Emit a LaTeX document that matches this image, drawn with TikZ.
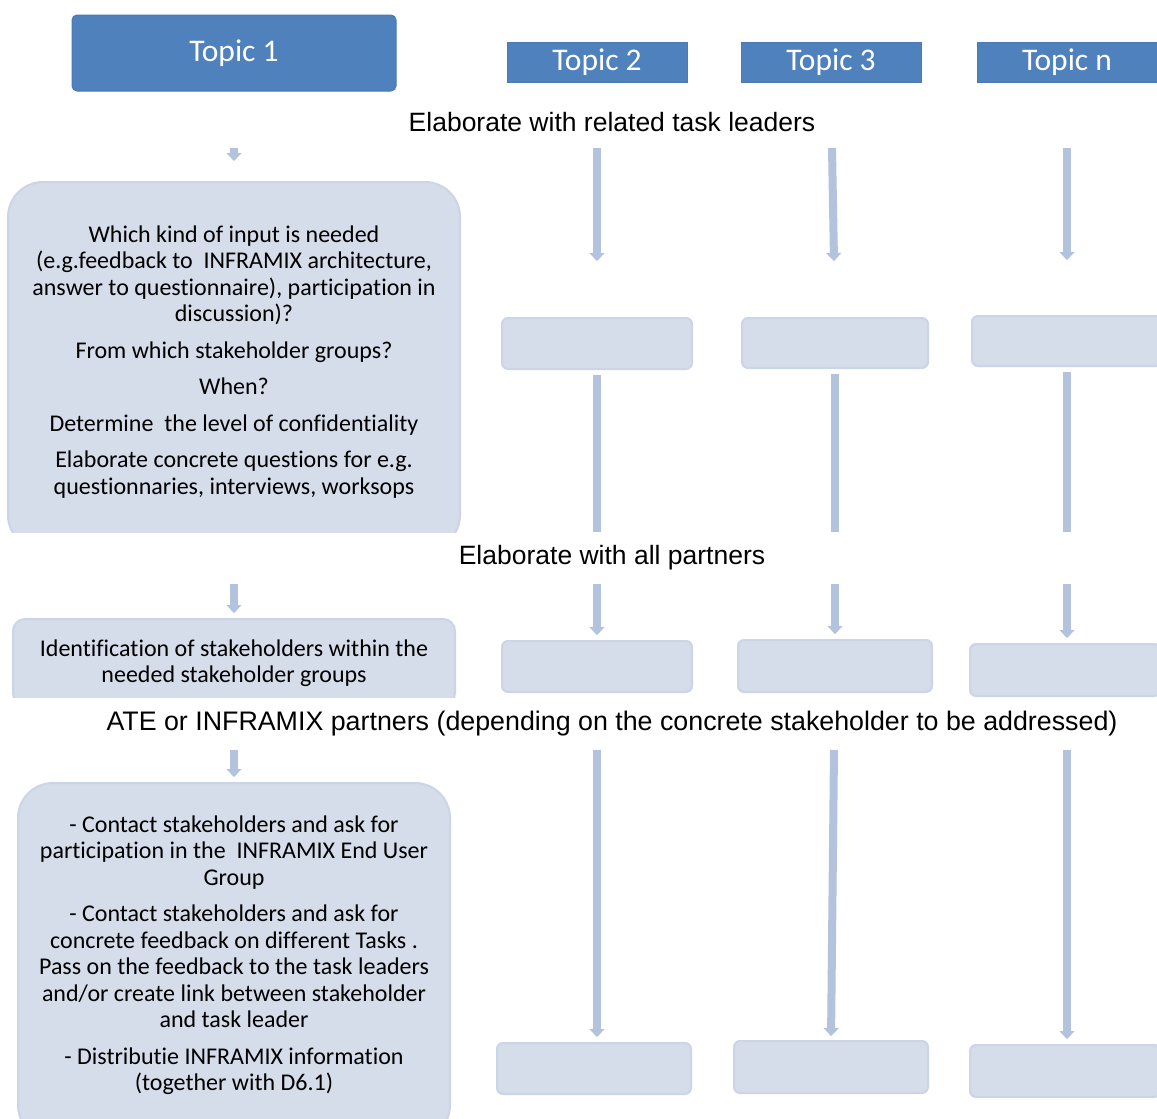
\documentclass[tikz,border=0pt]{standalone}
\usepackage{fontspec}
\setmainfont[Ligatures={NoCommon,NoRequired,NoContextual}]{Carlito}
\newfontfamily\arialf{Liberation Sans}
\usetikzlibrary{arrows.meta}
\definecolor{topicblue}{HTML}{4F81BD}
\definecolor{topicedge}{HTML}{4A7AB5}
\definecolor{lightfill}{HTML}{D5DCEA}
\definecolor{lightedge}{HTML}{CCD5E7}
\definecolor{arrowcol}{HTML}{B3C3DE}
\begin{document}
\begin{tikzpicture}[x=1pt,y=-1pt,
  topicbox/.style={draw=topicedge, line width=1pt, fill=topicblue, text=white, font=\fontsize{31.5}{34}\selectfont, inner sep=0pt},
  emptybox/.style={draw=lightedge, line width=2pt, fill=lightfill, rounded corners=6pt, inner sep=0pt},
  textbox/.style={draw=lightedge, line width=2pt, fill=lightfill, inner sep=0pt},
  blockarrow/.style={draw=arrowcol, line width=8pt, -{Triangle[width=15pt,length=8pt,line width=0.1pt]}},
  stem/.style={draw=arrowcol, line width=8pt},
  label/.style={font=\arialf\fontsize{26.5}{30}\selectfont, inner sep=0pt},
  body/.style={font=\fontsize{24}{26.5}\selectfont, align=center, inner sep=0pt}
]
\clip (0,0) rectangle (1157,1119);
\fill[white] (0,0) rectangle (1157,1119);

% Topics
\node[topicbox, rounded corners=5pt, minimum width=324pt, minimum height=76pt] (t1) at (234,53) {Topic 1};
\node[topicbox, minimum width=180pt, minimum height=40pt] (t2) at (597,62) {Topic 2};
\node[topicbox, minimum width=180pt, minimum height=40pt] (t3) at (831,62) {Topic 3};
\node[topicbox, minimum width=180pt, minimum height=40pt] (tn) at (1067,62) {Topic n};

% Labels
\node[label] (l1) at (612,122) {Elaborate with related task leaders};
\node[label] (l2) at (612,558) {Elaborate with all partners};
\node[label, font=\arialf\fontsize{26.8}{30}\selectfont] (l3) at (612,724) {ATE or INFRAMIX partners (depending on the concrete stakeholder to be addressed)};

% Box 1 (clipped)
\begin{scope}
\clip (0,0) rectangle (1157,532);
\node[textbox, rounded corners=35pt, minimum width=452pt, minimum height=368pt] (b1) at (234,366) {};
\end{scope}
\node[body] (b1t) at (234,362) {Which kind of input is needed\\(e.g.feedback to\ \ INFRAMIX architecture,\\answer to questionnaire), participation in\\discussion)?\\[10pt]
From which stakeholder groups?\\[10pt]
When?\\[10pt]
Determine\ \ the level of conf\kern0pt identiality\\[10pt]
Elaborate concrete questions for e.g.\\questionnaries, interviews, worksops};

% Box 2 (clipped)
\begin{scope}
\clip (0,0) rectangle (1157,697);
\node[textbox, rounded corners=12pt, minimum width=442pt, minimum height=86pt] (b2) at (234,662) {};
\end{scope}
\node[body] (b2t) at (234,663) {Identif\kern0pt ication of stakeholders within the\\needed stakeholder groups};

% Box 3
\node[textbox, rounded corners=35pt, minimum width=432pt, minimum height=357pt] (b3) at (234,961.5) {};
\node[body] (b3t) at (234,955) {- Contact stakeholders and ask for\\participation in the\ \ INFRAMIX End User\\Group\\[10pt]
- Contact stakeholders and ask for\\concrete feedback on dif\kern0pt f\kern0pt erent Tasks .\\Pass on the feedback to the task leaders\\and/or create link between stakeholder\\and task leader\\[10pt]
- Distributie INFRAMIX information\\(together with D6.1)};

% Empty boxes
\node[emptybox, minimum width=190pt, minimum height=51pt] (r1c2) at (597,343.5) {};
\node[emptybox, minimum width=186pt, minimum height=50pt] (r1c3) at (835,343) {};
\node[emptybox, minimum width=190pt, minimum height=50pt] (r1cn) at (1067,341) {};
\node[emptybox, minimum width=190pt, minimum height=51pt] (r2c2) at (597,666.5) {};
\node[emptybox, minimum width=194pt, minimum height=52pt] (r2c3) at (835,666) {};
\node[emptybox, minimum width=190pt, minimum height=52pt] (r2cn) at (1065,670) {};
\node[emptybox, minimum width=194pt, minimum height=51pt] (r3c2) at (594,1068.5) {};
\node[emptybox, minimum width=194pt, minimum height=52pt] (r3c3) at (831,1067) {};
\node[emptybox, minimum width=190pt, minimum height=52pt] (r3cn) at (1065,1071) {};

% Coordinates for arrow ends
\coordinate (a1s) at (234,148); \coordinate (a1e) at (234,161);
\coordinate (a2s) at (597,148); \coordinate (a2e) at (597,261);
\coordinate (a3s) at (832,148); \coordinate (a3e) at (834,261);
\coordinate (ans) at (1067,148); \coordinate (ane) at (1067,260);
\coordinate (s2e) at (597,532); \coordinate (s3e) at (835,532); \coordinate (sne) at (1067,532);
\coordinate (c1s) at (234,584); \coordinate (c2s) at (597,584); \coordinate (c3s) at (835,584); \coordinate (cns) at (1067,584);
\coordinate (d1s) at (234,750); \coordinate (d2s) at (597,750); \coordinate (d3s) at (834,750); \coordinate (dns) at (1067,750);
\coordinate (d3e) at (831,1041);

% Row 1 arrows
\draw[blockarrow] (a1s) -- (a1e);
\draw[blockarrow] (a2s) -- (a2e);
\draw[blockarrow] (a3s) -- (a3e);
\draw[blockarrow] (ans) -- (ane);
% Stems
\draw[stem, shorten <=5pt] (r1c2.south) -- (s2e);
\draw[stem, shorten <=5pt] (r1c3.south) -- (s3e);
\draw[stem, shorten <=5pt] (r1cn.south) -- (sne);
% Row 2 arrows
\draw[blockarrow, shorten >=5pt] (c1s) -- (b2.north);
\draw[blockarrow, shorten >=5pt] (c2s) -- (r2c2.north);
\draw[blockarrow, shorten >=5pt] (c3s) -- (r2c3.north);
\draw[blockarrow, shorten >=5pt] (cns) -- (cns |- r2cn.north);
% Row 3 arrows
\draw[blockarrow, shorten >=5pt] (d1s) -- (b3.north);
\draw[blockarrow, shorten >=5pt] (d2s) -- (d2s |- r3c2.north);
\draw[blockarrow, shorten >=5pt] (d3s) -- (d3e);
\draw[blockarrow, shorten >=5pt] (dns) -- (dns |- r3cn.north);
\end{tikzpicture}
\end{document}
